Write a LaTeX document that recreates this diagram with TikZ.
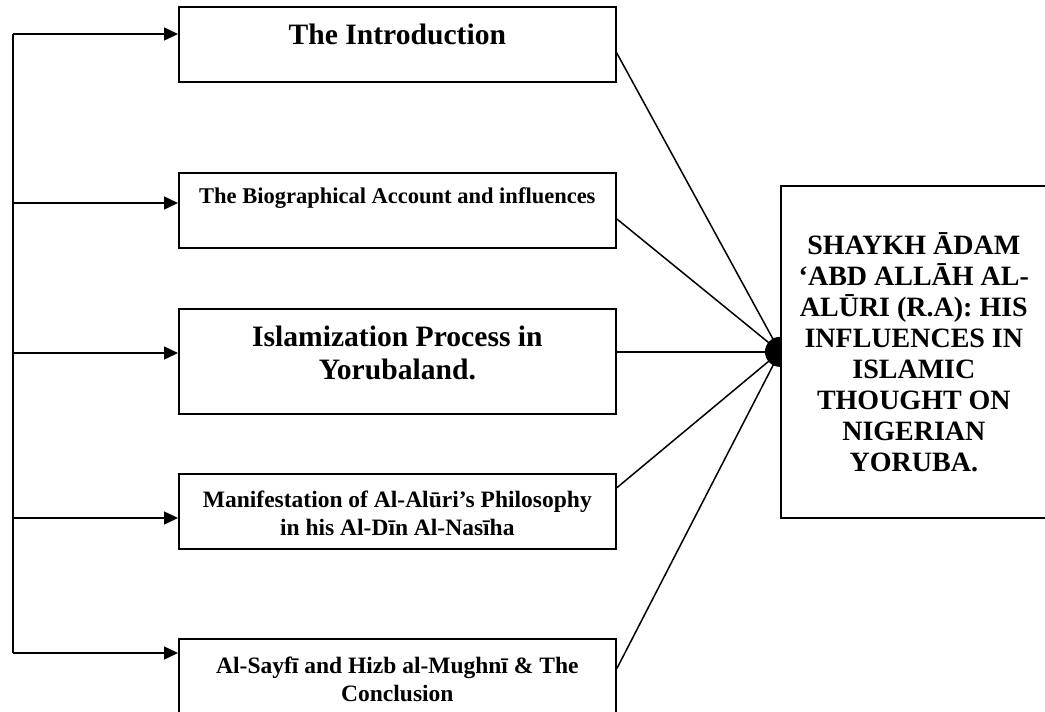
\documentclass[tikz,border=0pt]{standalone}
\usepackage{fontspec}
\setmainfont{Liberation Serif}
\usetikzlibrary{arrows.meta}
\tikzset{
	panel/.style={draw, line width=1.7pt, inner sep=0pt, anchor=north west, minimum width=437pt, minimum height=75pt},
	bigtxt/.style={font=\bfseries\fontsize{29.6}{33}\selectfont, align=center},
	smalltxt/.style={font=\bfseries\fontsize{23.5}{28}\selectfont, align=center},
	link/.style={line width=1.5pt},
	feed/.style={line width=1.5pt, -{Triangle[length=14pt,width=13pt]}},
}
\begin{document}
\begin{tikzpicture}[x=1pt,y=-1pt]
	\useasboundingbox (0,0) rectangle (1045,712);
	\node[panel] (intro) at (178,6) {};
	\node[panel] (bio) at (178,172) {};
	\node[panel, minimum height=105pt] (islam) at (178,308) {};
	\node[panel] (manif) at (178,473) {};
	\node[panel] (sayfi) at (178,638) {};
	\node[draw, line width=1.7pt, inner sep=0pt, anchor=north west, minimum width=266pt, minimum height=332pt, align=center, font=\bfseries\fontsize{28}{31}\selectfont] (thesis) at (780,185) {SHAYKH ĀDAM\\‘ABD ALLĀH AL-\\ALŪRI (R.A): HIS\\INFLUENCES IN\\ISLAMIC\\THOUGHT ON\\NIGERIAN\\YORUBA.};
	\node[bigtxt, anchor=base] (intro-txt) at ([yshift=-39pt]intro.north) {The Introduction};
	\node[font=\bfseries\fontsize{22.5}{26}\selectfont, anchor=base] (bio-txt) at ([yshift=-31pt]bio.north) {The Biographical Account and influences};
	\node[bigtxt] (islam-txt) at ([yshift=-45.3pt]islam.north) {Islamization Process in\\Yorubaland.};
	\node[smalltxt] (manif-txt) at ([yshift=-39.9pt]manif.north) {Manifestation of Al-Alūri’s Philosophy\\in his Al-Dīn Al-Nasīha};
	\node[smalltxt] (sayfi-txt) at ([yshift=-40.9pt]sayfi.north) {Al-Sayfī and Hizb al-Mughnī \& The\\Conclusion};
	\coordinate (sp-intro) at (13,34);
	\coordinate (sp-bio) at (13,203);
	\coordinate (sp-islam) at (13,353);
	\coordinate (sp-manif) at (13,518);
	\coordinate (sp-sayfi) at (13,653);
	\draw[link] (sp-intro) -- (sp-sayfi);
	\foreach \b in {intro,bio,islam,manif,sayfi}
		\draw[feed] (sp-\b) -- (sp-\b -| \b.west);
	\coordinate (hub) at (thesis.west);
	\draw[link] ([yshift=-8.5pt]intro.east) -- (hub);
	\draw[link] ([yshift=-8.5pt]bio.east) -- (hub);
	\draw[link] (islam.east |- hub) -- (hub);
	\draw[link] ([yshift=23.5pt]manif.east) -- (hub);
	\draw[link] ([yshift=7.5pt]sayfi.east) -- (hub);
	\fill ([yshift=15pt]hub) arc[start angle=90, end angle=270, radius=15pt] -- cycle;
\end{tikzpicture}
\end{document}
